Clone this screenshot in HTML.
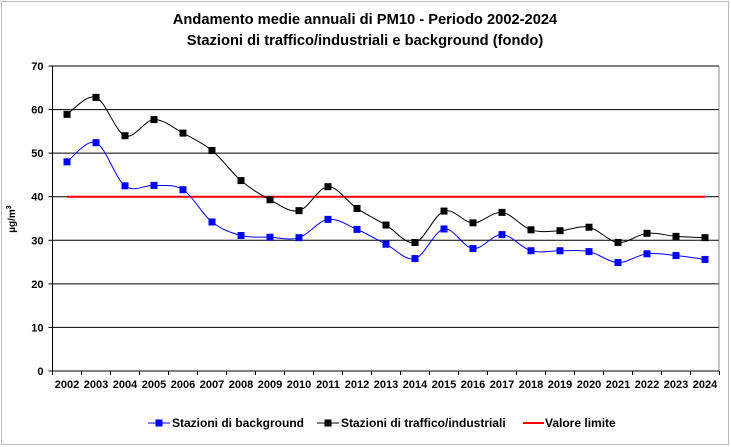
<!DOCTYPE html><html><head><meta charset="utf-8"><style>body{margin:0;background:#fff}svg{display:block;font-family:"Liberation Sans",Arial,sans-serif;font-weight:bold}</style></head><body>
<svg id="s" width="731" height="447" xmlns="http://www.w3.org/2000/svg">
<rect x="1.5" y="1.5" width="727" height="443" fill="#fff" stroke="#bbb"/>
<text x="365" y="24" font-size="14.7" text-anchor="middle">Andamento medie annuali di PM10 - Periodo 2002-2024</text>
<text x="365" y="45" font-size="14.7" text-anchor="middle">Stazioni di traffico/industriali e background (fondo)</text>
<g id="g"></g>
</svg>
<script>
var g=document.getElementById('g'),h='';
var L=52.5,R=719,T=66,B=371;function Y(v){return B-v*(B-T)/70}function X(i){return L+14.5+29*i}
for(var v=10;v<=70;v+=10)h+='<line x1="'+L+'" x2="'+R+'" y1="'+Y(v)+'" y2="'+Y(v)+'" stroke="#000"/>';
h+='<path d="M'+R+' '+T+'V'+B+'" stroke="#888" fill="none"/>';
h+='<path d="M'+L+' '+T+'V'+B+'H'+R+'" stroke="#000" fill="none"/>';
for(v=0;v<=70;v+=10){h+='<line x1="'+(L-4)+'" x2="'+L+'" y1="'+Y(v)+'" y2="'+Y(v)+'" stroke="#000"/><text x="'+(L-9)+'" y="'+(Y(v)+4)+'" font-size="11" text-anchor="end">'+v+'</text>';}
for(var i=0;i<=23;i++)h+='<line x1="'+(L+29*i)+'" x2="'+(L+29*i)+'" y1="'+B+'" y2="'+(B+4)+'" stroke="#000"/>';
for(i=0;i<23;i++)h+='<text x="'+X(i)+'" y="'+(B+17)+'" font-size="11" text-anchor="middle">'+(2002+i)+'</text>';
h+='<text transform="translate(15,219) rotate(-90)" font-size="10" text-anchor="middle">µg/m<tspan font-size="7" dy="-4">3</tspan></text>';
h+='<line x1="'+X(0)+'" x2="'+X(22)+'" y1="'+Y(40)+'" y2="'+Y(40)+'" stroke="#f00" stroke-width="2"/>';
var K=[58.9,62.8,54,57.7,54.6,50.6,43.7,39.3,36.8,42.3,37.3,33.5,29.5,36.7,34,36.4,32.4,32.2,33,29.5,31.6,30.9,30.6];
var Bl=[48,52.4,42.5,42.6,41.6,34.2,31.1,30.7,30.6,34.8,32.5,29.1,25.8,32.6,28.1,31.3,27.6,27.6,27.4,24.9,26.9,26.5,25.6];
function curve(d,c){var p=d.map(function(v,i){return[X(i),Y(v)]}),s='M'+p[0];
for(var i=0;i<p.length-1;i++){var a=p[i-1]||p[i],b=p[i],e=p[i+1],f=p[i+2]||e;
s+='C'+(b[0]+(e[0]-a[0])/6)+','+(b[1]+(e[1]-a[1])/6)+' '+(e[0]-(f[0]-b[0])/6)+','+(e[1]-(f[1]-b[1])/6)+' '+e[0]+','+e[1];}
var r='<path d="'+s+'" stroke="'+c+'" fill="none"/>';p.forEach(function(q){r+='<rect x="'+(q[0]-3.5)+'" y="'+(q[1]-3.5)+'" width="7" height="7" fill="'+c+'"/>'});return r}
h+=curve(Bl,'#00f')+curve(K,'#000');
h+='<line x1="148" x2="170" y1="423" y2="423" stroke="#00f"/><rect x="155.5" y="419.5" width="7" height="7" fill="#00f"/><text x="172" y="427" font-size="12">Stazioni di background</text>';
h+='<line x1="317" x2="339" y1="423" y2="423" stroke="#000"/><rect x="324.5" y="419.5" width="7" height="7" fill="#000"/><text x="341" y="427" font-size="12">Stazioni di traffico/industriali</text>';
h+='<line x1="523" x2="544" y1="423" y2="423" stroke="#f00" stroke-width="2"/><text x="545" y="427" font-size="12">Valore limite</text>';
g.innerHTML=h;
</script></body></html>
